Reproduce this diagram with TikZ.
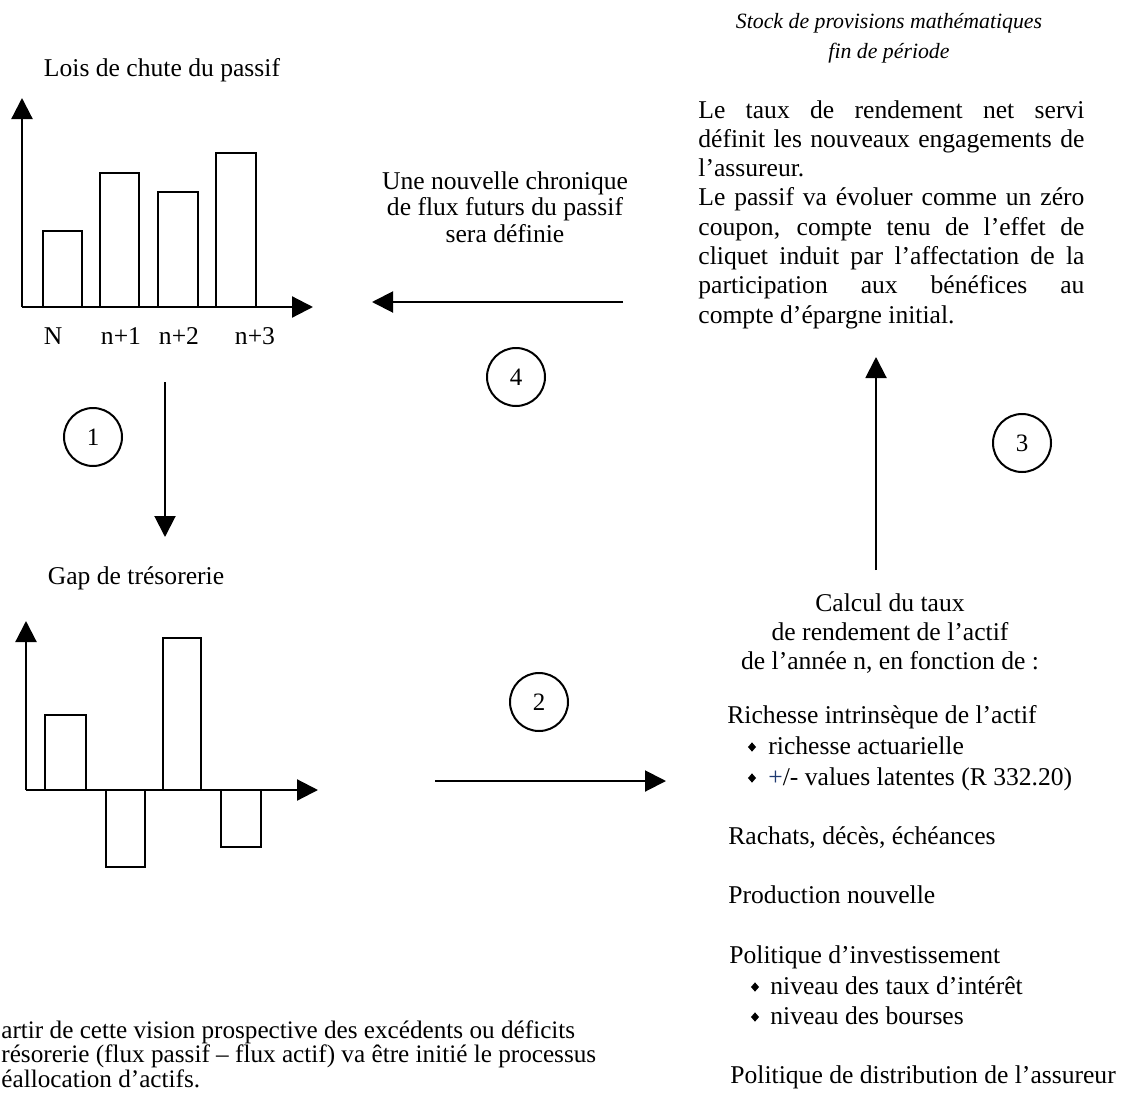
\documentclass[tikz,border=0pt]{standalone}
\usepackage{fontspec}
\setmainfont{Liberation Serif}
\usetikzlibrary{arrows.meta,shapes.geometric}
\definecolor{plusblue}{HTML}{1F3A70}
\begin{document}
\lineskiplimit=-20pt
\begin{tikzpicture}[x=0.5pt,y=-0.5pt,
  txt/.style={inner sep=0pt,font=\fontsize{12.8}{14.5}\selectfont},
  ital/.style={inner sep=0pt,font=\fontsize{10.9}{15}\selectfont\itshape},
  axis/.style={line width=1.1pt,-{Triangle[length=10.5pt,width=10.5pt]}},
  flow/.style={line width=1pt,-{Triangle[length=10.5pt,width=10.5pt]}},
  bar/.style={line width=0.85pt},
  stepnum/.style={circle,draw,line width=1pt,minimum size=29pt,inner sep=0pt,font=\fontsize{12.5}{14}\selectfont},
  bulletmark/.style={diamond,fill,draw=none,inner sep=0pt,minimum width=4.2pt,minimum height=4.8pt}
]
\useasboundingbox (0,0) rectangle (1124,1092);

% ---------- top chart ----------
\node[txt,anchor=base] (t1) at (162,76) {Lois de chute du passif};
\coordinate (o1) at (22,307);
\coordinate (y1) at (22,98);
\coordinate (x1) at (313,307);
\draw[bar] (43,307) rectangle (82,231);
\draw[bar] (100,307) rectangle (139,173);
\draw[bar] (158,307) rectangle (198,192);
\draw[bar] (216,307) rectangle (256,153);
\draw[axis] (o1) -- (y1);
\draw[axis] (o1) -- (x1);
\node[txt,anchor=base] (lN) at (53,344) {N};
\node[txt,anchor=base] (l1) at (121,344) {n+1};
\node[txt,anchor=base] (l2) at (179,344) {n+2};
\node[txt,anchor=base] (l3) at (255,344) {n+3};

% ---------- arrow 1 ----------
\coordinate (a1s) at (165,382);
\coordinate (a1e) at (165,537);
\draw[flow] (a1s) -- (a1e);
\node[stepnum] (c1) at (93,437) {1};

% ---------- bottom chart ----------
\node[txt,anchor=base] (t2) at (136,584) {Gap de trésorerie};
\coordinate (o2) at (26,790);
\coordinate (y2) at (26,621);
\coordinate (x2) at (318,790);
\draw[bar] (45,790) rectangle (86,715);
\draw[bar] (106,790) rectangle (145,867);
\draw[bar] (163,790) rectangle (201,638);
\draw[bar] (221,790) rectangle (261,847);
\draw[axis] (o2) -- (y2);
\draw[axis] (o2) -- (x2);

% multi-line nodes without text width: base anchor = last line
\node[txt,anchor=base west,align=left,font=\fontsize{12.6}{12.2}\selectfont] (t3) at (1,1087)
  {artir de cette vision prospective des excédents ou déficits\\
   résorerie (flux passif -- flux actif) va être initié le processus\\
   éallocation d'actifs.};

% ---------- arrow 2 ----------
\coordinate (a2s) at (435,781);
\coordinate (a2e) at (666,781);
\draw[flow] (a2s) -- (a2e);
\node[stepnum] (c2) at (539,702) {2};

% ---------- arrow 4 ----------
\node[txt,anchor=base,align=center,font=\fontsize{12.8}{13.2}\selectfont] (t4) at (505,242)
  {Une nouvelle chronique\\de flux futurs du passif\\sera définie};
\coordinate (a4s) at (623,302);
\coordinate (a4e) at (372,302);
\draw[flow] (a4s) -- (a4e);
\node[stepnum] (c4) at (516,377) {4};

% ---------- top right ----------
\node[ital,anchor=base,align=center] (t5) at (889,58)
  {Stock de provisions mathématiques\\fin de période};
\node[txt,anchor=base west,text width=193pt,align=justify,font=\fontsize{12.8}{14.65}\selectfont] (t6) at (698,118)
  {\tolerance=10000 Le taux de rendement net servi\linebreak
   définit les nouveaux engagements de\linebreak
   l'assureur.\\
   Le passif va évoluer comme un zéro\linebreak
   coupon, compte tenu de l'effet de\linebreak
   cliquet induit par l'affectation de la\linebreak
   participation aux bénéfices au\linebreak
   compte d'épargne initial.};

% ---------- arrow 3 ----------
\coordinate (a3s) at (876,570);
\coordinate (a3e) at (876,357);
\draw[flow] (a3s) -- (a3e);
\node[stepnum] (c3) at (1022,443) {3};

% ---------- bottom right ----------
\node[txt,anchor=base,align=center] (t7) at (890,669)
  {Calcul du taux\\de rendement de l'actif\\de l'année n, en fonction de :};
\node[txt,anchor=base west] (r1) at (727,723) {Richesse intrinsèque de l'actif};
\node[bulletmark] (b1) at (752,747) {};
\node[txt,anchor=base west] (r1a) at (768,754) {richesse actuarielle};
\node[bulletmark] (b2) at (752,778) {};
\node[txt,anchor=base west] (r1b) at (768,785) {\textcolor{plusblue}{+}/- values latentes (R 332.20)};
\node[txt,anchor=base west] (r2) at (728,844) {Rachats, décès, échéances};
\node[txt,anchor=base west] (r3) at (728,903) {Production nouvelle};
\node[txt,anchor=base west] (r4) at (729,963) {Politique d'investissement};
\node[bulletmark] (b3) at (755,987) {};
\node[txt,anchor=base west] (r4a) at (770,994) {niveau des taux d'intérêt};
\node[bulletmark] (b4) at (755,1017) {};
\node[txt,anchor=base west] (r4b) at (770,1024) {niveau des bourses};
\node[txt,anchor=base west] (r5) at (730,1083) {Politique de distribution de l'assureur};
\end{tikzpicture}
\end{document}
